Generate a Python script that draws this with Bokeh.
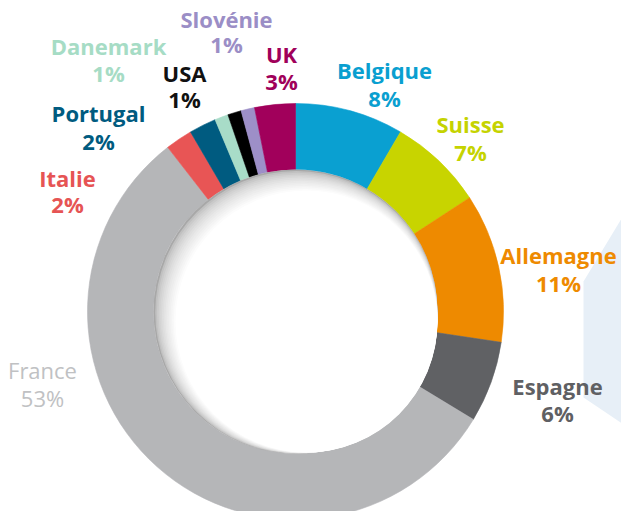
from bokeh.plotting import figure
from bokeh.models import ColumnDataSource, Range1d
from bokeh.embed import file_html
from bokeh.resources import INLINE
from bokeh.core.properties import value
import math

# ---- data ----
countries = ["Belgique", "Suisse", "Allemagne", "Espagne", "France", "Italie",
             "Portugal", "Danemark", "USA", "Slovénie", "UK"]
shares = [8, 7, 11, 6, 53, 2, 2, 1, 1, 1, 3]
pct_labels = ["8%", "7%", "11%", "6%", "53%", "2%", "2%", "1%", "1%", "1%", "3%"]

seg_colors = ["#0aa0d1", "#c8d400", "#ee8a00", "#606164", "#b5b6b8", "#e85555",
              "#005b80", "#a8dcc8", "#000000", "#9d8fc8", "#a1005b"]
label_colors = ["#0a9fd0", "#c5d300", "#ee8a00", "#5f6063", "#c0c1c3", "#e65454",
                "#005b80", "#a6dcc5", "#111111", "#9b8ec6", "#a0005a"]

# ---- layout (reference pixel coordinates, y downward) ----
W, H = 621, 511
CX, CY = 295, 311
R_OUT, R_IN = 208, 142
label_x = [384, 470, 558, 557, 42, 67, 98, 108, 184, 226, 281]
name_base = [69, 123, 254, 385, 369, 177, 112, 45, 72, 18, 53]
pct_base = [97, 151, 282, 412, 397, 203, 140, 72, 98, 43, 80]

def fy(y):
    return 519 - y

p = figure(width=W, height=H, output_backend="svg", toolbar_location=None,
           x_range=Range1d(0, W), y_range=Range1d(8, 8 + H),
           min_border=0, outline_line_color=None)
p.axis.visible = False
p.grid.visible = False
p.background_fill_color = "white"
p.border_fill_color = "white"

# decorative light-blue shape at right edge
p.patch(x=[640, 629, 583, 583, 629, 640], y=[fy(205), fy(205), fy(281), fy(397), fy(428), fy(428)],
        fill_color="#e7eff7", line_color=None)

total = float(sum(shares))
starts, ends = [], []
cum = 0.0
for s in shares:
    starts.append(math.pi / 2 - 2 * math.pi * cum / total)
    cum += s
    ends.append(math.pi / 2 - 2 * math.pi * cum / total)

src = ColumnDataSource(dict(start=starts, end=ends, color=seg_colors))
p.annular_wedge(x=CX, y=fy(CY), inner_radius=R_IN, outer_radius=R_OUT,
                start_angle="start", end_angle="end", direction="clock",
                fill_color="color", line_color="color", line_width=0.6, source=src)

# inner shadow gradient
N = 14
for k in range(N):
    t = k / (N - 1)
    r = R_IN - 11 * t
    cx = CX + 11 * t
    cy = CY + 10 * t
    g = int(round(168 + 87 * (t ** 0.5)))
    col = "#%02x%02x%02x" % (g, g, g)
    p.circle(x=[cx], y=[fy(cy)], radius=r, fill_color=col, line_color=None)

weights = ["normal" if c == "France" else "bold" for c in countries]
lsrc = ColumnDataSource(dict(x=label_x, yn=[fy(v) for v in name_base],
                             yp=[fy(v) for v in pct_base], name=countries,
                             pct=pct_labels, color=label_colors, w=weights))
p.text(x="x", y="yn", text="name", text_color="color", text_font=value("Open Sans"),
       text_font_style="w", text_font_size="22px", text_align="center",
       text_baseline="alphabetic", source=lsrc)
p.text(x="x", y="yp", text="pct", text_color="color", text_font=value("Open Sans"),
       text_font_style="w", text_font_size="22px", text_align="center",
       text_baseline="alphabetic", source=lsrc)

open("out.html", "w").write(file_html(p, INLINE))
